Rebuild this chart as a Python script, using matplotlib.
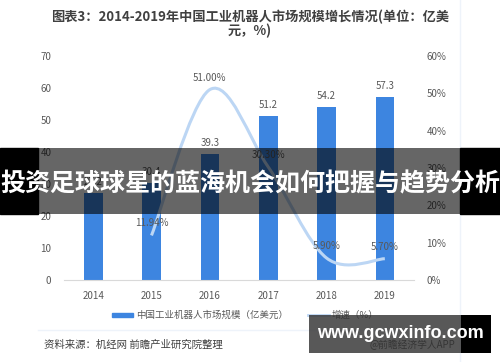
import matplotlib
matplotlib.use("Agg")
import matplotlib.pyplot as plt
from matplotlib.path import Path
from matplotlib.patches import PathPatch, Rectangle
from matplotlib.lines import Line2D
from matplotlib.ticker import FuncFormatter

plt.rcParams["font.family"] = ["Noto Sans CJK SC", "DejaVu Sans"]

# data
years = ["2014", "2015", "2016", "2017", "2018", "2019"]
market_size = [27.2, 30.4, 39.3, 51.2, 54.2, 57.3]
growth_idx = [1, 2, 3, 4, 5]
growth_rate = [11.94, 51.00, 30.30, 5.90, 5.70]

title_1 = "图表3：2014-2019年中国工业机器人市场规模增长情况(单位：亿美"
title_2 = "元，%)"
legend_bar = "中国工业机器人市场规模（亿美元）"
legend_line = "增速（%）"
source = "资料来源：机经网 前瞻产业研究院整理"
banner = "投资足球球星的蓝海机会如何把握与趋势分析"
site = "www.gcwxinfo.com"

W, H = 500, 362
BAR_BLUE = "#3d85e0"
LINE_BLUE = "#bcd6f4"
GRAY = "#595959"


def fx(px):
    return px / W


def fy(py):
    return 1 - py / H


fig = plt.figure(figsize=(5, 3.62), dpi=100)
fig.patch.set_facecolor("white")

ax = fig.add_axes([fx(64), fy(280), 350 / W, 224 / H])
xs = list(range(len(years)))
ax.bar(xs, market_size, width=0.32, color=BAR_BLUE, zorder=2)
ax.set_xlim(-0.5, len(years) - 0.5)
ax.set_ylim(0, 70)
ax.set_yticks(range(0, 71, 10))
ax.set_xticks(xs, years)
for side in ["top", "left", "right"]:
    ax.spines[side].set_visible(False)
ax.spines["bottom"].set_color("#d9d9d9")
ax.tick_params(length=0, labelsize=7, colors=GRAY)
ax.tick_params(axis="y", pad=9)
ax.tick_params(axis="x", pad=8)
for i, v in enumerate(market_size):
    ax.text(i, v + 3.4, f"{v}", ha="center", va="center", fontsize=7, color=GRAY)

ax2 = ax.twinx()
ax2.set_ylim(0, 60)
ax2.set_yticks(range(0, 61, 10))
ax2.yaxis.set_major_formatter(FuncFormatter(lambda v, p: f"{int(v)}%"))
for side in ["top", "left", "right", "bottom"]:
    ax2.spines[side].set_visible(False)
ax2.tick_params(length=0, labelsize=7, colors=GRAY, pad=9)

# smoothed growth line (Catmull-Rom -> cubic Bezier)
pts = list(zip(growth_idx, growth_rate))
verts = [pts[0]]
codes = [Path.MOVETO]
for k in range(len(pts) - 1):
    p0 = pts[k - 1] if k > 0 else pts[k]
    p1 = pts[k]
    p2 = pts[k + 1]
    p3 = pts[k + 2] if k + 2 < len(pts) else pts[k + 1]
    c1 = (p1[0] + (p2[0] - p0[0]) / 6, p1[1] + (p2[1] - p0[1]) / 6)
    c2 = (p2[0] - (p3[0] - p1[0]) / 6, p2[1] - (p3[1] - p1[1]) / 6)
    verts += [c1, c2, p2]
    codes += [Path.CURVE4] * 3
ax2.add_patch(PathPatch(Path(verts, codes), fill=False, edgecolor=LINE_BLUE,
                        linewidth=2.2, zorder=3))
for i, v in zip(growth_idx, growth_rate):
    ax2.text(i, v + 3.2, f"{v:.2f}%", ha="center", va="center", fontsize=7,
             color=GRAY, zorder=4)

# title
fig.text(0.5, fy(17), title_1, ha="center", va="center", fontsize=9.5,
         weight="bold", color="#404040")
fig.text(0.5, fy(31), title_2, ha="center", va="center", fontsize=9.5,
         weight="bold", color="#404040")

# legend
fig.add_artist(Rectangle((fx(112), fy(317)), 21 / W, 4 / H, color=BAR_BLUE,
                         transform=fig.transFigure))
fig.text(fx(136), fy(315), legend_bar, ha="left", va="center", fontsize=6.8, color=GRAY)
fig.add_artist(Line2D([fx(308), fx(329)], [fy(315), fy(315)], color=LINE_BLUE,
                      linewidth=2, transform=fig.transFigure))
fig.text(fx(332), fy(315), legend_line, ha="left", va="center", fontsize=6.8, color=GRAY)
fig.add_artist(Line2D([fx(38), fx(460)], [fy(330), fy(330)], color="#eef3fa",
                      linewidth=1, transform=fig.transFigure))
fig.add_artist(Line2D([fx(460), fx(460)], [fy(0), fy(362)], color="#eef3fa",
                      linewidth=1, transform=fig.transFigure))

# source
fig.text(fx(44), fy(345), source, ha="left", va="center", fontsize=7.5, color="#404040")
fig.text(fx(370), fy(345), "@前瞻经济学人APP", ha="left", va="center", fontsize=7,
         color="#404040")

# overlay banner across the middle
fig.add_artist(Rectangle((0, fy(214)), fx(38), 66 / H, color="black",
                         transform=fig.transFigure, zorder=10))
fig.add_artist(Rectangle((fx(460), fy(214)), fx(40), 66 / H, color="black",
                         transform=fig.transFigure, zorder=10))
fig.add_artist(Rectangle((fx(38), fy(214)), fx(422), 66 / H, color="black",
                         alpha=0.6, linewidth=0, transform=fig.transFigure, zorder=10))
fig.text(0.5, fy(184), banner, ha="center", va="center", fontsize=18, weight="bold",
         color="white", zorder=11)

# site watermark box
fig.add_artist(Rectangle((fx(309), fy(353)), fx(152), 38 / H, color="#333333",
                         alpha=0.82, linewidth=0, transform=fig.transFigure, zorder=10))
fig.add_artist(Rectangle((fx(461), fy(353)), fx(30), 38 / H, color="black",
                         linewidth=0, transform=fig.transFigure, zorder=10))
fig.text(fx(400), fy(333), site, ha="center", va="center", fontsize=13, weight="bold",
         color="white", family="Liberation Sans", zorder=11)

fig.savefig("out.png", dpi=100)
